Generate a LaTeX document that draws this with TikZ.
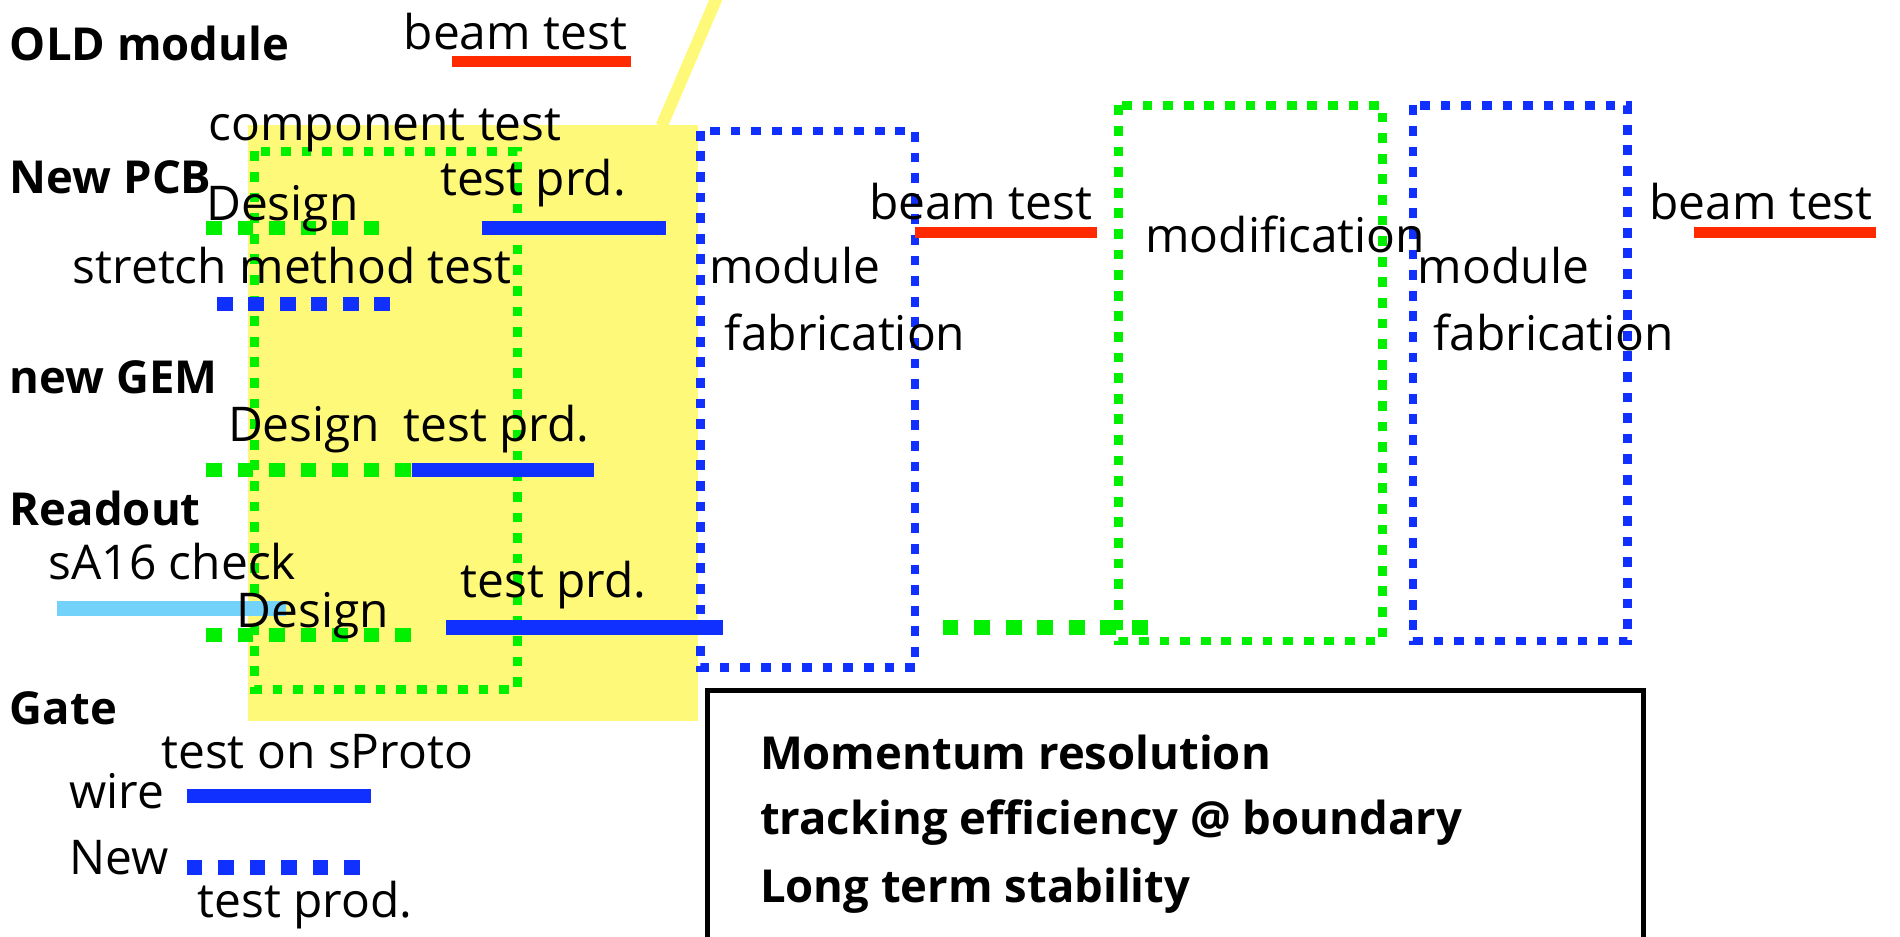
\documentclass[tikz,border=0pt]{standalone}
\usepackage{fontspec}
\setmainfont{Open Sans}
\definecolor{ylw}{RGB}{255,249,122}
\definecolor{grn}{RGB}{0,240,0}
\definecolor{blu}{RGB}{16,48,255}
\definecolor{rd}{RGB}{255,42,0}
\definecolor{lblu}{RGB}{115,210,250}
\tikzset{
  lbl/.style={anchor=base west, inner sep=0pt, font=\fontsize{39.5}{42}\selectfont},
  hdr/.style={anchor=base west, inner sep=0pt, font=\fontsize{37.5}{40}\selectfont\bfseries},
  boxtxt/.style={anchor=base west, inner sep=0pt, font=\fontsize{37.5}{40}\selectfont\bfseries},
  solidbar/.style={line width=12},
  dotbar/.style={line width=12, dash pattern=on 13 off 13},
  redbar/.style={line width=9, draw=rd},
  dotrect/.style={line width=7, dash pattern=on 8 off 9}
}
\begin{document}
\begin{tikzpicture}[x=1pt,y=-1pt]
\useasboundingbox (0,0) rectangle (1568,773);
% yellow highlight
\coordinate (yl1) at (595,-10);
\coordinate (yl2) at (546,104);
\draw[ylw, line width=10] (yl1) -- (yl2);
\fill[ylw] (205,103) rectangle (576,595);
% component test rect
\draw[grn, dotrect] (210,125) rectangle (427,569);
% module fabrication 1
\draw[blu, dotrect] (578,108) rectangle (755,551);
% modification
\draw[grn, dotrect] (923,87) rectangle (1141,529);
% module fabrication 2
\draw[blu, dotrect] (1166,87) rectangle (1343,529);
% bars
\draw[rd, redbar] (373,51) -- (521,51);
\draw[grn, dotbar] (170,188) -- (316,188);
\draw[blu, solidbar] (398,188) -- (550,188);
\draw[blu, dotbar] (179,251) -- (325,251);
\draw[grn, dotbar] (170,388) -- (340,388);
\draw[blu, solidbar] (340,388) -- (490,388);
\draw[lblu, solidbar] (47,502) -- (236,502);
\draw[grn, dotbar] (170,524) -- (340,524);
\draw[blu, solidbar] (368,518) -- (597,518);
\draw[rd, redbar] (755,192) -- (905,192);
\draw[grn, dotbar] (778,518) -- (948,518);
\draw[rd, redbar] (1398,192) -- (1548,192);
\draw[blu, solidbar] (154,657) -- (306,657);
\draw[blu, dotbar] (154,716) -- (300,716);
% result box
\draw[line width=4] (584,570) rectangle (1356,800);
% texts
\node[hdr] (old) at (8,50) {OLD module};
\node[lbl] (bt1) at (333,41) {beam test};
\node[lbl] (comp) at (172,116) {component test};
\node[hdr] (pcb) at (8,160) {New PCB};
\node[lbl] (des1) at (170,182) {Design};
\node[lbl] (tp1) at (363,161) {test prd.};
\node[lbl] (str) at (60,234) {stretch method test};
\node[lbl] (mod1) at (585,234) {module};
\node[lbl] (fab1) at (598,289) {fabrication};
\node[lbl] (bt2) at (717,181) {beam test};
\node[lbl] (modif) at (945,208) {modification};
\node[lbl] (mod2) at (1170,234) {module};
\node[lbl] (fab2) at (1183,289) {fabrication};
\node[lbl] (bt3) at (1361,181) {beam test};
\node[hdr] (gem) at (8,325) {new GEM};
\node[lbl] (des2) at (188,364) {Design};
\node[lbl] (tp2) at (333,364) {test prd.};
\node[hdr] (ro) at (8,434) {Readout};
\node[lbl] (sa) at (40,478) {sA16 check};
\node[lbl] (tp3) at (380,493) {test prd.};
\node[lbl] (des3) at (195,518) {Design};
\node[hdr] (gate) at (8,598) {Gate};
\node[lbl] (tos) at (133,634) {test on sProto};
\node[lbl] (wire) at (57,667) {wire};
\node[lbl] (new) at (57,722) {New};
\node[lbl] (tprod) at (163,757) {test prod.};
\node[boxtxt] (r1) at (627,635) {Momentum resolution};
\node[boxtxt] (r2) at (627,689) {tracking efficiency @ boundary};
\node[boxtxt] (r3) at (627,745) {Long term stability};
\end{tikzpicture}
\end{document}
